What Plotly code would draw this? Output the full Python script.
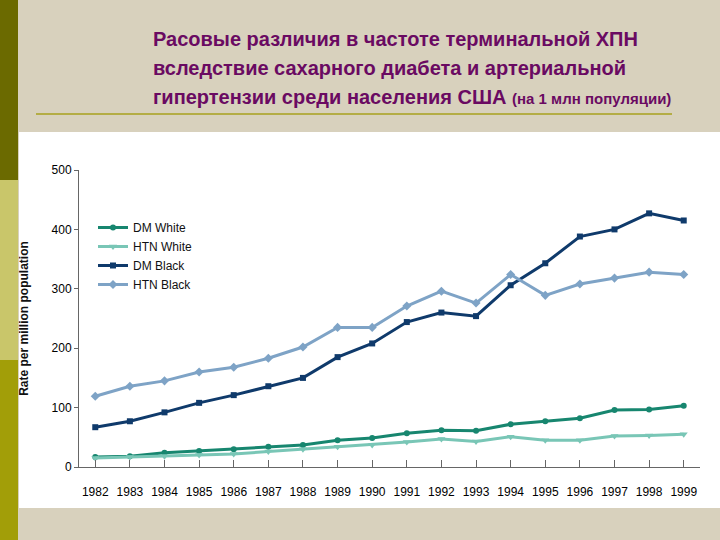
import plotly.graph_objects as go

years = [str(y) for y in range(1982, 2000)]
dm_white = [17, 18, 24, 27, 30, 34, 37, 45, 49, 57, 62, 61, 72, 77, 82, 96, 97, 103]
htn_white = [15, 17, 18, 20, 22, 26, 30, 34, 37, 42, 47, 43, 51, 45, 45, 52, 53, 55]
dm_black = [67, 77, 92, 108, 121, 136, 150, 185, 208, 244, 260, 254, 306, 343, 388, 400, 427, 415]
htn_black = [119, 136, 145, 160, 168, 183, 202, 235, 235, 271, 296, 276, 324, 289, 308, 318, 328, 324]
y_ticks = [0, 100, 200, 300, 400, 500]

W, H = 720, 540
L, R, T, B = 79, 700, 170, 467

def px(x):
    return (x - L) / (R - L)

def py(y):
    return (B - y) / (B - T)

fig = go.Figure()
series = [
    ("DM White", dm_white, "#17866f", "circle", 6),
    ("HTN White", htn_white, "#79c6b6", "triangle-down", 7),
    ("DM Black", dm_black, "#0f3a6b", "square", 6),
    ("HTN Black", htn_black, "#7ea3c6", "diamond", 7),
]
for name, vals, col, sym, sz in series:
    fig.add_trace(go.Scatter(
        x=years, y=vals, name=name, mode="lines+markers",
        line=dict(color=col, width=3),
        marker=dict(color=col, symbol=sym, size=sz),
    ))

shapes = []
# white chart panel
shapes.append(dict(type="rect", xref="paper", yref="paper", layer="below",
                   x0=px(19), x1=px(720), y0=py(508), y1=py(132),
                   fillcolor="white", line=dict(width=0)))
# left bar
shapes.append(dict(type="rect", xref="paper", yref="paper", layer="below",
                   x0=px(0), x1=px(18), y0=py(180), y1=py(0),
                   fillcolor="#6b6a00", line=dict(width=0)))
shapes.append(dict(type="rect", xref="paper", yref="paper", layer="below",
                   x0=px(0), x1=px(18), y0=py(360), y1=py(180),
                   fillcolor="#c9c66a", line=dict(width=0)))
shapes.append(dict(type="rect", xref="paper", yref="paper", layer="below",
                   x0=px(0), x1=px(18), y0=py(540), y1=py(360),
                   fillcolor="#a29e08", line=dict(width=0)))
# olive rule under title
shapes.append(dict(type="line", xref="paper", yref="paper",
                   x0=px(36), x1=px(672), y0=py(114), y1=py(114),
                   line=dict(color="#b4ad45", width=2)))

title_font = "Liberation Sans Narrow, Arial Narrow, Liberation Sans, Arial, sans-serif"
title_lines = [
    "<b>Расовые различия в частоте терминальной ХПН</b>",
    "<b>вследствие сахарного диабета и артериальной</b>",
    "<b>гипертензии среди населения США</b> <b><span style='font-size:15px'>(на 1 млн популяции)</span></b>",
]
annotations = []
for i, t in enumerate(title_lines):
    annotations.append(dict(
        text=t, xref="paper", yref="paper", x=px(151), y=py(39 + i * 29),
        xanchor="left", yanchor="middle", showarrow=False,
        font=dict(family=title_font, size=20, color="#6a0a62"),
    ))

fig.update_layout(
    width=W, height=H,
    margin=dict(l=L, r=W - R, t=T, b=H - B),
    paper_bgcolor="#d8d1bd",
    plot_bgcolor="white",
    showlegend=True,
    legend=dict(x=px(93), y=py(213), xanchor="left", yanchor="top",
                bgcolor="rgba(0,0,0,0)", tracegroupgap=0,
                font=dict(family="Liberation Sans, Arial, sans-serif", size=12, color="#111"),
                itemwidth=30),
    shapes=shapes,
    annotations=annotations,
    xaxis=dict(
        type="category", range=[-0.47, 17.47],
        showgrid=False, showline=True, linecolor="#666", linewidth=1,
        ticks="inside", ticklen=7, tickcolor="#666",
        tickfont=dict(family="Liberation Sans, Arial, sans-serif", size=12, color="#000"),
        ticklabelstandoff=14,
        zeroline=False,
    ),
    yaxis=dict(
        range=[0, 500], tickvals=y_ticks,
        showgrid=False, showline=True, linecolor="#666", linewidth=1,
        ticks="outside", ticklen=4, tickcolor="#666",
        tickfont=dict(family="Liberation Sans, Arial, sans-serif", size=12, color="#000"),
        zeroline=False,
        title=dict(text="<b>Rate per million population</b>", standoff=20,
                   font=dict(family="Liberation Sans, Arial, sans-serif", size=12, color="#111")),
    ),
)

fig.write_html("out.html")
